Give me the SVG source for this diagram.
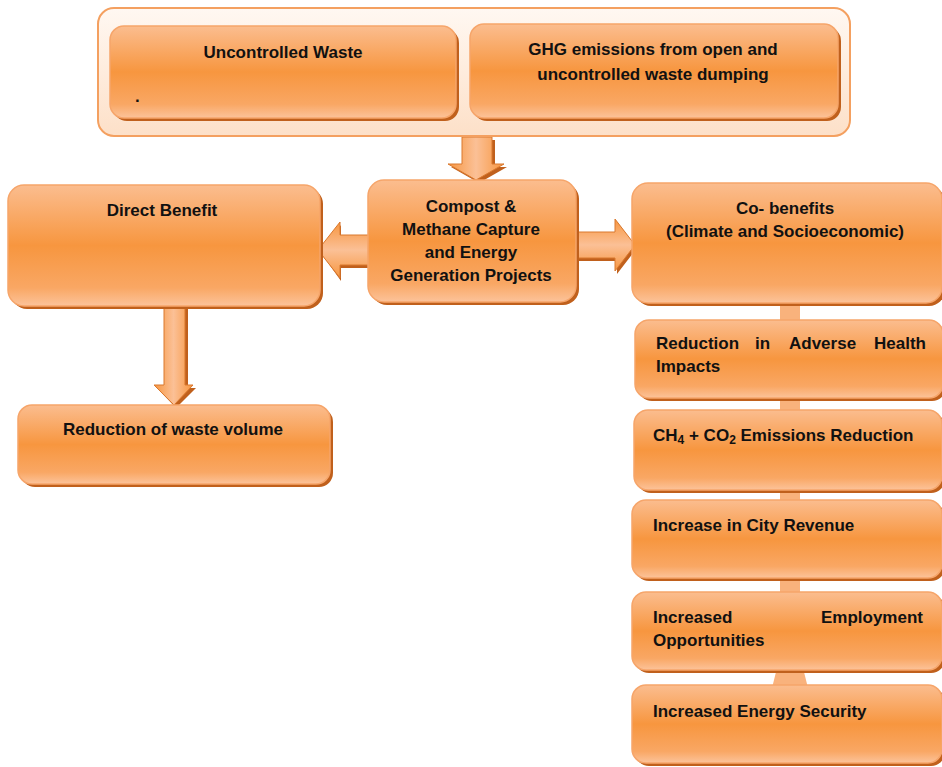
<svg xmlns="http://www.w3.org/2000/svg" width="942" height="767" viewBox="0 0 942 767">
<defs>
<linearGradient id="gBox" x1="0" y1="0" x2="0" y2="1">
<stop offset="0" stop-color="#fbbd8f"/>
<stop offset="0.5" stop-color="#f7963f"/>
<stop offset="0.85" stop-color="#f9a764"/>
<stop offset="1" stop-color="#fcc39a"/>
</linearGradient>
<linearGradient id="gOuter" x1="0" y1="0" x2="0" y2="1">
<stop offset="0" stop-color="#fff8f2"/>
<stop offset="1" stop-color="#fde0c8"/>
</linearGradient>
<linearGradient id="gV" x1="0" y1="0" x2="1" y2="0">
<stop offset="0" stop-color="#f7963f"/>
<stop offset="0.5" stop-color="#fbc096"/>
<stop offset="1" stop-color="#f7963f"/>
</linearGradient>
<linearGradient id="gH" x1="0" y1="0" x2="0" y2="1">
<stop offset="0" stop-color="#f7963f"/>
<stop offset="0.5" stop-color="#fbc096"/>
<stop offset="1" stop-color="#f7963f"/>
</linearGradient>
</defs>
<style>
.box{fill:url(#gBox);stroke:#f6a56a;stroke-width:1.5}
.sh{fill:#c0601c}
.t{font-family:"Liberation Sans",Arial,sans-serif;font-weight:bold;font-size:17px;fill:#111}
.c{text-anchor:middle}
.e{text-anchor:end}
.ar{stroke:#d9782e;stroke-width:1}
</style>

<g id="connectors">
<rect x="780" y="302" width="20" height="390" fill="#f9b27c"/>
<polygon points="777,668 803,668 808,688 772,688" fill="#f9b27c"/>
<polygon class="sh" points="465,140 495,140 495,167 507,167 479,183 451,167 465,167"/>
<polygon points="462,137 492,137 492,164 504,164 476,180 448,164 462,164" fill="url(#gV)" class="ar"/>
<polygon class="sh" points="371,238 341,238 341,225 321,253 341,281 341,268 371,268"/>
<polygon points="370,235 340,235 340,222 318,250 340,278 340,265 370,265" fill="url(#gH)" class="ar"/>
<polygon class="sh" points="577,235 617,235 617,222 637,248 617,274 617,261 577,261"/>
<polygon points="576,232 615,232 615,219 635,245 615,271 615,258 576,258" fill="url(#gH)" class="ar"/>
<polygon class="sh" points="167,309 188,309 188,388 196,388 176,408 157,388 167,388"/>
<polygon points="164,306 185,306 185,385 193,385 174,405 154,385 164,385" fill="url(#gV)" class="ar"/>
</g>

<g id="top-group">
<rect x="98" y="8" width="752" height="128" rx="16" fill="url(#gOuter)" stroke="#f4a060" stroke-width="2"/>
</g>

<g id="uncontrolled-waste">
<rect class="sh" x="113" y="29" width="346" height="92" rx="14"/>
<rect class="box" x="110" y="26" width="346" height="92" rx="14"/>
<text class="t c" x="283" y="58">Uncontrolled Waste</text>
<text class="t" x="135" y="102">.</text>
</g>

<g id="ghg-emissions">
<rect class="sh" x="473" y="27" width="368" height="94" rx="14"/>
<rect class="box" x="470" y="24" width="368" height="94" rx="14"/>
<text class="t c" x="653" y="55">GHG emissions from open and</text>
<text class="t c" x="653" y="80">uncontrolled waste dumping</text>
</g>

<g id="compost">
<rect class="sh" x="371" y="183" width="208" height="122" rx="16"/>
<rect class="box" x="368" y="180" width="208" height="122" rx="16"/>
<text class="t c" x="471" y="212">Compost &amp;</text>
<text class="t c" x="471" y="235">Methane Capture</text>
<text class="t c" x="471" y="258">and Energy</text>
<text class="t c" x="471" y="281">Generation Projects</text>
</g>

<g id="direct-benefit">
<rect class="sh" x="11" y="188" width="312" height="121" rx="16"/>
<rect class="box" x="8" y="185" width="312" height="121" rx="16"/>
<text class="t c" x="162" y="216">Direct Benefit</text>
</g>

<g id="co-benefits">
<rect class="sh" x="635" y="186" width="310" height="120" rx="16"/>
<rect class="box" x="632" y="183" width="310" height="120" rx="16"/>
<text class="t c" x="785" y="214">Co- benefits</text>
<text class="t c" x="785" y="237">(Climate and Socioeconomic)</text>
</g>

<g id="waste-volume">
<rect class="sh" x="21" y="408" width="312" height="79" rx="14"/>
<rect class="box" x="18" y="405" width="312" height="79" rx="14"/>
<text class="t c" x="173" y="435">Reduction of waste volume</text>
</g>

<g id="health">
<rect class="sh" x="638" y="323" width="308" height="78" rx="14"/>
<rect class="box" x="635" y="320" width="308" height="78" rx="14"/>
<text class="t" x="656" y="349">Reduction</text>
<text class="t" x="755" y="349">in</text>
<text class="t" x="789" y="349">Adverse</text>
<text class="t e" x="926" y="349">Health</text>
<text class="t" x="656" y="372">Impacts</text>
</g>

<g id="emissions-reduction">
<rect class="sh" x="637" y="413" width="308" height="80" rx="14"/>
<rect class="box" x="634" y="410" width="308" height="80" rx="14"/>
<text class="t" x="653" y="441">CH<tspan font-size="12" dy="3">4</tspan><tspan dy="-3"> + CO</tspan><tspan font-size="12" dy="3">2</tspan><tspan dy="-3"> Emissions Reduction</tspan></text>
</g>

<g id="city-revenue">
<rect class="sh" x="635" y="503" width="310" height="78" rx="14"/>
<rect class="box" x="632" y="500" width="310" height="78" rx="14"/>
<text class="t" x="653" y="531">Increase in City Revenue</text>
</g>

<g id="employment">
<rect class="sh" x="635" y="595" width="310" height="78" rx="14"/>
<rect class="box" x="632" y="592" width="310" height="78" rx="14"/>
<text class="t" x="653" y="623">Increased</text>
<text class="t e" x="923" y="623">Employment</text>
<text class="t" x="653" y="646">Opportunities</text>
</g>

<g id="energy-security">
<rect class="sh" x="635" y="688" width="310" height="78" rx="14"/>
<rect class="box" x="632" y="685" width="310" height="78" rx="14"/>
<text class="t" x="653" y="717">Increased Energy Security</text>
</g>
</svg>
